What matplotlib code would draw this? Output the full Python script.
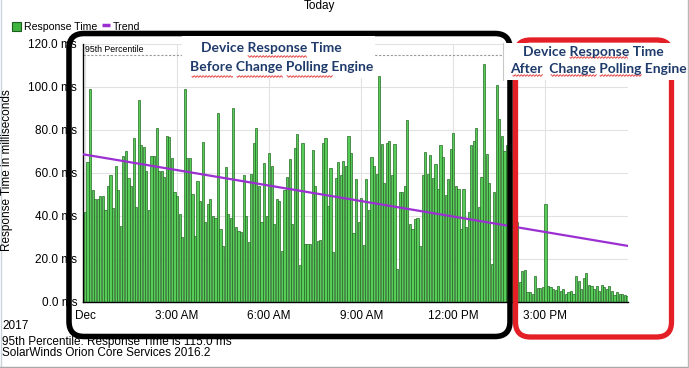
import matplotlib
matplotlib.use("Agg")
import matplotlib.pyplot as plt
from matplotlib.patches import FancyBboxPatch, Rectangle
import numpy as np

plt.rcParams['font.family'] = ['Liberation Sans', 'DejaVu Sans']

# response time in ms, one poll every 5 minutes from midnight
before_change = [
    41.7, 65, 99, 52, 48, 48, 49, 49, 42.5, 54, 59, 43.5, 63, 52, 35, 68, 70, 57.5, 54, 76,
    44, 94, 73, 72, 61, 42.5, 68, 68, 81, 61, 60.6, 58, 77, 76.6, 67, 51, 49, 41, 30, 99,
    67, 67, 50, 30.5, 56, 47, 74.5, 37, 45.6, 48, 40, 39, 88, 34,
    26, 62.6, 41, 39, 90, 34.7, 33, 32.4, 59, 40, 27.8, 59.5, 74, 81, 54, 37, 64.6, 40, 69, 63,
    36, 48, 47, 23.4, 52, 58, 66.5, 36, 71.5, 78, 17, 74, 27, 27, 27, 70.7, 54, 28, 28.5, 74,
    76, 44.5, 62, 23, 57.5, 65, 59, 65.7, 63, 77, 69, 32, 57, 37,
    48.2, 26.2, 56.9, 42.5, 67.3, 63.1, 59.5, 105, 73.5, 55.3, 74, 75, 59, 73.3, 15, 51, 51, 53.8, 84.7, 36.3,
    34, 38.6, 39, 26, 59, 69.6, 59.5, 68.5, 57.5, 64.2, 52.2, 72.7, 67.3, 49.5, 57.2, 71.2, 78.4, 54, 52.6, 34,
    52.6, 34.7, 41.7, 72.7, 75, 80.8, 44, 58, 110.7, 68.8, 55.3, 17.7,
    51, 101, 85, 77, 70]
during_change = [73, 68, 66, 55]
after_change = [
    37, 9.2, 14.1, 14.6, 4.5, 4.2, 3.7, 12, 6.4, 6.4, 6.9, 45.6,
    7.3, 6.8, 6.0, 5.3, 7.3, 4.8, 6.0, 3.7, 4.2, 4.8, 3.7, 12, 9.5, 6.0, 11, 13.5, 7.9, 7.3,
    6.0, 7.3, 4.8, 7.9, 6.8, 6.0, 7.3, 4.8, 3.0, 4.5, 3.3, 3.7, 3.0, 2.6]
response_ms = before_change + during_change + after_change

trend_ms = [68.6, 25.9]      # trend at left and right edge of the plot
percentile_95 = 115.0

x_ticks = [0, 3, 6, 9, 12, 15]
x_labels = ["Dec", "3:00 AM", "6:00 AM", "9:00 AM", "12:00 PM", "3:00 PM"]
y_ticks = [0, 20, 40, 60, 80, 100, 120]

W, H = 689, 368
fig = plt.figure(figsize=(W / 100, H / 100), dpi=100)
fig.patch.set_facecolor('white')


def box(x0, y0, x1, y1):
    # pixel box (y from top) -> figure fraction rect
    return [x0 / W, 1 - y1 / H, (x1 - x0) / W, (y1 - y0) / H]


ax = fig.add_axes(box(83, 44, 628, 301.5))
hours = np.arange(len(response_ms)) / 12.0
xlim = (-0.065, 17.69)
ax.bar(hours, response_ms, width=0.85 / 12, color='#58CC58', edgecolor='#236A23',
       linewidth=0.5, zorder=2)
ax.plot(xlim, trend_ms, color='#9B2FD2', lw=1.6, zorder=3)
ax.axhline(percentile_95, color='#9A9A9A', lw=0.8, ls=(0, (2, 1.5)), zorder=1)
ax.text(0.0, 117.3, "95th Percentile", fontsize=6.3, va='center', ha='left', zorder=4)

ax.set_xlim(*xlim)
ax.set_ylim(0, 120)
ax.set_xticks(x_ticks, x_labels)
ax.set_yticks(y_ticks, [f"{v:.1f} ms" for v in y_ticks])
ax.tick_params(axis='both', length=0, labelsize=8.5)
ax.tick_params(axis='x', pad=6)
ax.tick_params(axis='y', pad=4.3)
ax.grid(color='#E2E2E2', lw=0.8)
ax.set_axisbelow(True)
for s in ['top', 'right']:
    ax.spines[s].set_visible(False)
for s in ['left', 'bottom']:
    ax.spines[s].set_color('black')
    ax.spines[s].set_linewidth(1)

# overlay in pixel coordinates for the screenshot furniture and annotations
ov = fig.add_axes([0, 0, 1, 1], zorder=10)
ov.set_xlim(0, W)
ov.set_ylim(H, 0)
ov.axis('off')
ov.patch.set_alpha(0)

ov.text(319, 5.5, "Today", fontsize=8.5, ha='center', va='center')
ov.add_patch(Rectangle((12, 21.5), 9, 9, facecolor='#3FB43F', edgecolor='#1E5E1E', lw=0.8))
ov.text(24, 26.5, "Response Time", fontsize=7.6, va='center')
ov.plot([102, 110], [24.5, 24.5], color='#9B2FD2', lw=2.5, solid_capstyle='butt')
ov.text(113, 26.5, "Trend", fontsize=7.6, va='center')

ov.text(7, 170, "Response Time in milliseconds", fontsize=8.5, rotation=90,
        ha='center', va='center')

ov.text(2, 326, "2017", fontsize=8.5, va='center')
ov.text(2, 341.5, "95th Percentile: Response Time is 115.0 ms", fontsize=8.5, va='center')
ov.text(2, 352.5, "SolarWinds Orion Core Services 2016.2", fontsize=8.5, va='center')

# hand-drawn boxes
ov.add_patch(FancyBboxPatch((69 + 15, 33.5 + 15), 441 - 30, 303 - 30,
                            boxstyle="round,pad=15", fill=False, edgecolor='black', lw=4))
ov.add_patch(FancyBboxPatch((515.5 + 15, 40 + 15), 156 - 30, 297 - 30,
                            boxstyle="round,pad=15", fill=False, edgecolor='#E41F26', lw=3.8))

# text boxes
ov.add_patch(Rectangle((182, 36), 193, 42, facecolor='white', edgecolor='none'))
ov.add_patch(Rectangle((503, 43), 186, 37, facecolor='white', edgecolor='none'))
ov.plot([503, 503], [43, 80], color='#C8C8C8', lw=0.8)

note = dict(fontsize=10, fontweight='bold', color='#1F3B6B', ha='center', va='center',
            family=['Lato', 'DejaVu Sans'])
ov.text(271.5, 47.5, "Device Response Time", **note)
ov.text(281.5, 67, "Before Change Polling Engine", **note)
ov.text(593.5, 51.5, "Device Response Time", **note)
ov.text(598.5, 69, "After  Change Polling Engine", **note)


def squiggle(x0, x1, y):
    xs = np.arange(x0, x1, 0.5)
    ov.plot(xs, y + 0.8 * np.sin(xs * np.pi / 1.5), color='#E03030', lw=0.6)


for x0, x1, y in [(248, 307, 56.5), (192, 233, 76.5), (237, 283, 76.5), (287, 333, 76.5),
                  (570, 628, 57.5), (513, 543, 75.5), (551, 597, 75.5), (600, 642, 75.5)]:
    squiggle(x0, x1, y)

# window border
ov.plot([0.5, 0.5], [0, 366], color='#C9D3DD', lw=1)
ov.plot([0, 688], [366.5, 366.5], color='#A8A8A8', lw=1)
ov.plot([687.5, 687.5], [0, 367], color='#B8B8B8', lw=1)

fig.savefig("out.png", dpi=100)
